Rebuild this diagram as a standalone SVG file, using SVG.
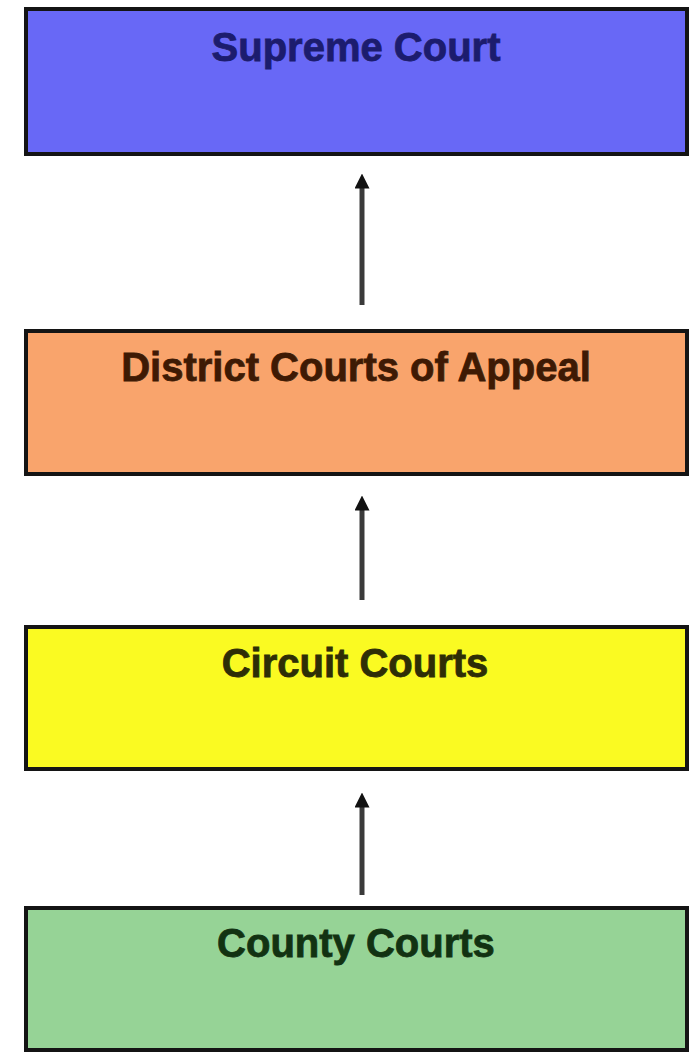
<svg xmlns="http://www.w3.org/2000/svg" width="695" height="1053" viewBox="0 0 695 1053">
<defs>
<style>
.box{stroke:#141414;stroke-width:4}
.lbl{font-family:"Liberation Sans",Arial,sans-serif;font-weight:bold;font-size:40px;text-anchor:middle;stroke-width:0.8}
.conn{stroke:#3a3a3a;stroke-width:5;fill:none}
</style>
<marker id="ah" markerWidth="3" markerHeight="3" refX="0.5" refY="1.5" orient="auto" markerUnits="strokeWidth">
<path d="M0,0 L3,1.5 L0,3 Z" fill="#111"/>
</marker>
</defs>
<rect width="695" height="1053" fill="#ffffff"/>
<g id="connectors">
<line class="conn" x1="362" y1="305" x2="362" y2="186" marker-end="url(#ah)"/>
<line class="conn" x1="362" y1="600" x2="362" y2="508" marker-end="url(#ah)"/>
<line class="conn" x1="362" y1="895" x2="362" y2="805" marker-end="url(#ah)"/>
</g>
<g id="supreme">
<rect class="box" x="26" y="9" width="661" height="145" fill="#6868f6"/>
<text class="lbl" x="356" y="61" fill="#1c1c6e" stroke="#1c1c6e">Supreme Court</text>
</g>
<g id="district">
<rect class="box" x="26" y="331" width="661" height="143" fill="#f9a46c"/>
<text class="lbl" x="356" y="381" fill="#3e1a04" stroke="#3e1a04">District Courts of Appeal</text>
</g>
<g id="circuit">
<rect class="box" x="26" y="627" width="661" height="142" fill="#fafa22"/>
<text class="lbl" x="355" y="677" fill="#2e2e06" stroke="#2e2e06">Circuit Courts</text>
</g>
<g id="county">
<rect class="box" x="26" y="908" width="661" height="142" fill="#96d396"/>
<text class="lbl" x="356" y="957" fill="#123212" stroke="#123212">County Courts</text>
</g>
</svg>
